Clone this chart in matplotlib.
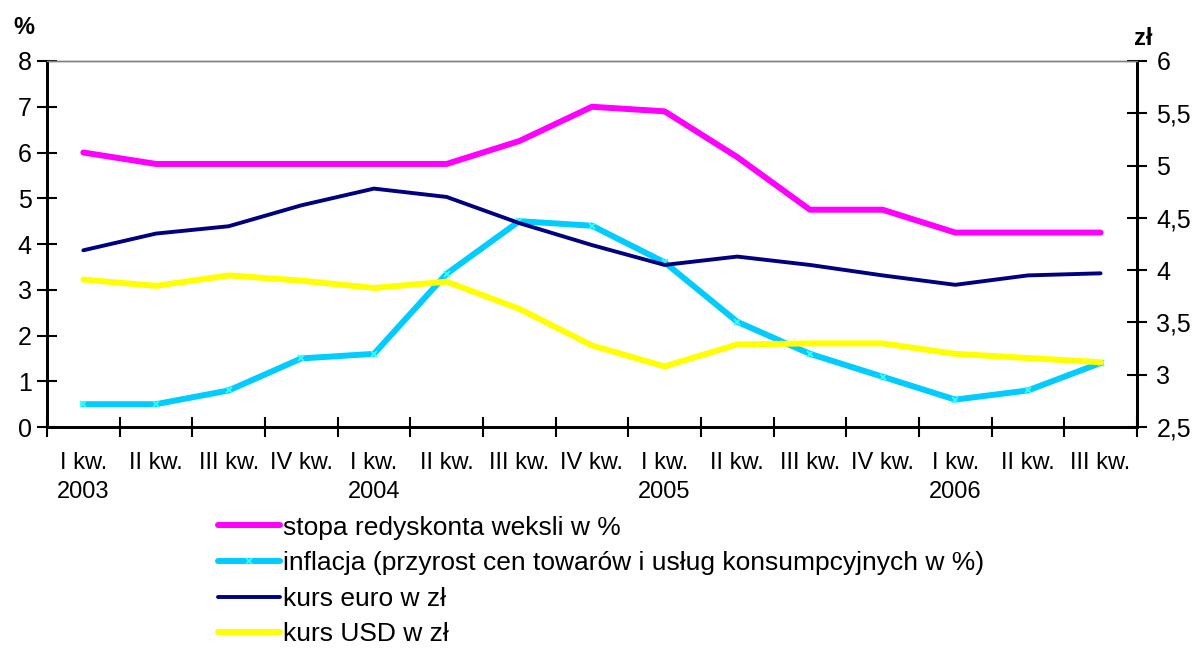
import matplotlib.pyplot as plt
import numpy as np

plt.rcParams['font.family'] = ['Liberation Sans', 'DejaVu Sans']

# quarters
quarters = ['I kw.', 'II kw.', 'III kw.', 'IV kw.'] * 3 + ['I kw.', 'II kw.', 'III kw.']
years = ['2003', '', '', '', '2004', '', '', '', '2005', '', '', '', '2006', '', '']

# left axis (%)
stopa = [6.0, 5.75, 5.75, 5.75, 5.75, 5.75, 6.25, 7.0, 6.9, 5.9, 4.75, 4.75, 4.25, 4.25, 4.25]
inflacja = [0.5, 0.5, 0.8, 1.5, 1.6, 3.35, 4.5, 4.4, 3.6, 2.3, 1.6, 1.1, 0.6, 0.8, 1.4]

# right axis (zł)
euro = [4.19, 4.35, 4.42, 4.62, 4.78, 4.70, 4.45, 4.24, 4.05, 4.13, 4.05, 3.95, 3.86, 3.95, 3.97]
usd = [3.91, 3.85, 3.95, 3.90, 3.83, 3.89, 3.63, 3.28, 3.08, 3.29, 3.30, 3.30, 3.20, 3.16, 3.12]

labels = ['stopa redyskonta weksli w %',
          'inflacja (przyrost cen towarów i usług konsumpcyjnych w %)',
          'kurs euro w zł',
          'kurs USD w zł']

x = np.arange(len(quarters))

fig = plt.figure(figsize=(11.99, 6.51), dpi=100)
ax = fig.add_axes([0.0392, 0.344, 0.909, 0.5623])
ax2 = ax.twinx()

l1, = ax.plot(x, stopa, color='#FF00FF', lw=4.3, solid_capstyle='round', zorder=3)
l2, = ax.plot(x, inflacja, color='#00CCFF', lw=4.3, marker='x', ms=4, mew=1.3,
              mec='#33FFFF', solid_capstyle='round', zorder=3)
l3, = ax2.plot(x, euro, color='#000080', lw=2.8, solid_capstyle='round')
l4, = ax2.plot(x, usd, color='#FFFF00', lw=4.3, solid_capstyle='round')

ax.set_xlim(-0.5, len(x) - 0.5)
ax.set_ylim(0, 8)
ax2.set_ylim(2.5, 6)
ax.set_yticks(range(0, 9))
ax2.set_yticks(np.arange(2.5, 6.01, 0.5))
ax2.set_yticklabels([f'{v:g}'.replace('.', ',') for v in np.arange(2.5, 6.01, 0.5)])

ax.set_xticks(x)
ax.set_xticklabels([f'{q}\n{y}' if y else f'{q}\n' for q, y in zip(quarters, years)],
                   fontsize=17, linespacing=1.38)
ax.set_xticks(np.arange(-0.5, len(x), 1), minor=True)
ax.tick_params(axis='x', which='major', length=0, pad=18)
ax.tick_params(axis='x', which='minor', direction='inout', length=14, width=1.5)
ax.tick_params(axis='y', direction='inout', length=14, width=1.5, labelsize=18, pad=4)
ax2.tick_params(axis='y', direction='inout', length=14, width=1.5, labelsize=18, pad=7)

for a in (ax, ax2):
    a.spines['top'].set_color('#808080')
    a.spines['top'].set_linewidth(1)
    for s in ('left', 'right', 'bottom'):
        a.spines[s].set_linewidth(2)

fig.text(0.011, 0.957, '%', fontsize=17, fontweight='bold', ha='left', va='center')
fig.text(0.946, 0.941, 'zł', fontsize=17, fontweight='bold', ha='left', va='center')

fig.legend([l1, l2, l3, l4], labels, loc='upper left', bbox_to_anchor=(0.182, 0.208),
           frameon=False, fontsize=19, handlelength=2.35, handletextpad=0.1,
           labelspacing=0.44, borderaxespad=0, borderpad=0)

fig.savefig('out.png', dpi=100)
